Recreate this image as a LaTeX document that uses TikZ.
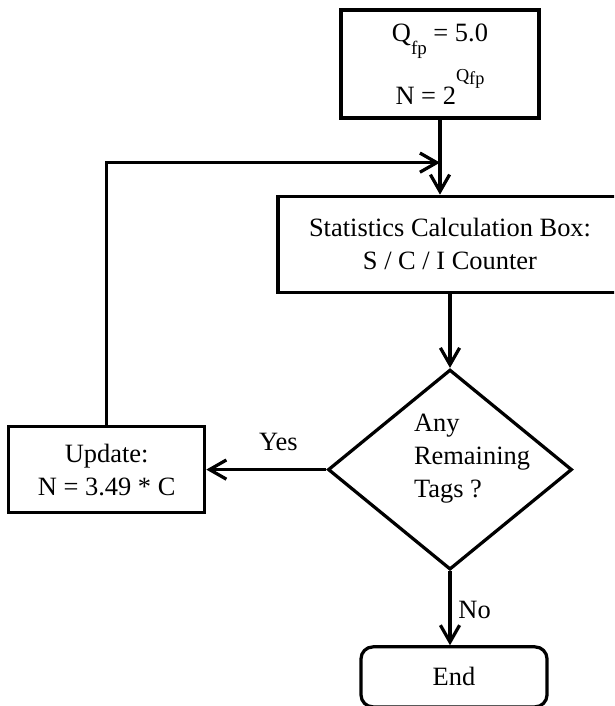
\documentclass[tikz,border=0pt]{standalone}
\usepackage{fontspec}
\setmainfont{Liberation Serif}
\usetikzlibrary{positioning}
\usetikzlibrary{shapes.geometric}
\usetikzlibrary{calc}
\usetikzlibrary{arrows.meta}

\begin{document}
\begin{tikzpicture}[
    x=0.025cm, y=-0.025cm,
    line width=2.3pt,
    every node/.style={font=\fontsize{18.8}{23.5}\selectfont},
    procbox/.style={draw,rectangle,inner sep=0pt,align=center},
    decision/.style={draw,diamond,inner sep=0pt,minimum width=6.1cm,minimum height=5cm},
    endbox/.style={draw,rectangle,rounded corners=0.3cm,inner sep=0pt,align=center},
    lbl/.style={inner sep=0pt},
    arr/.style={-{Straight Barb[length=4.2mm,width=4.8mm]}}
    ]

    \useasboundingbox (0,0) rectangle (614,706);
    \clip (0,0) rectangle (614,706);

    \node[procbox,minimum width=4.95cm,minimum height=2.7cm] (qfp) at (440,64)
      {Q\raisebox{-0.5em}{\fontsize{13.5}{13.5}\selectfont fp} = 5.0\\[0.35em]
       N = 2\raisebox{0.85em}{\fontsize{13}{13}\selectfont Q\raisebox{-0.15em}{fp}}};
    \node[procbox,minimum width=8.6cm,minimum height=2.4cm,below=1.875cm of qfp,xshift=0.25cm] (stats)
      {Statistics Calculation Box:\\S / C / I Counter};
    \node[decision,below=1.85cm of stats,
          label={[align=left,xshift=0.55cm,yshift=0.275cm]center:Any\\Remaining\\Tags ?}] (tags) {};
    \node[procbox,minimum width=4.9cm,minimum height=2.15cm,left=3cm of tags] (update)
      {Update:\\N = 3.49 * C};
    \node[endbox,minimum width=4.65cm,minimum height=1.5cm,below=1.85cm of tags,xshift=0.1cm] (end)
      {End};

    \coordinate (join) at ($(qfp.south)+(0,43)$);

    \draw[arr] (qfp.south) -- (qfp.south |- stats.north);
    \draw[arr] (update.north) |- (join);
    \draw[arr] (tags.south) -- node[lbl,pos=0.53,right=0.17cm] {No} (tags.south |- end.north);
    \path (stats) edge[arr] (tags)
    (tags) edge[arr] node[lbl,pos=0.4,yshift=0.7cm] {Yes} (update)
    ;
\end{tikzpicture}
\end{document}
